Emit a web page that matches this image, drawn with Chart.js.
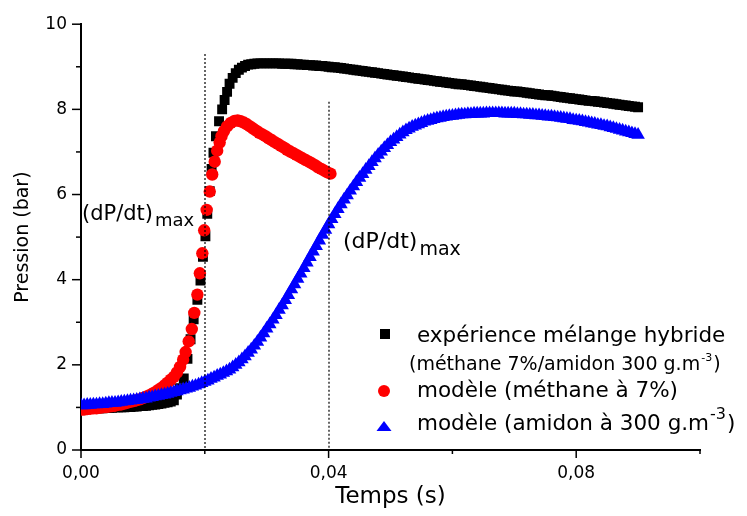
<!DOCTYPE html>
<html>
<head>
<meta charset="utf-8">
<script src="https://cdn.jsdelivr.net/npm/chart.js@4.4.1/dist/chart.umd.min.js"></script>
<style>
  body { margin: 0; background: #fff; }
  #wrap { width: 747px; height: 516px; }
</style>
</head>
<body>
<div id="wrap"><canvas id="pressionChart" width="747" height="516"></canvas></div>
<script>
// expérience mélange hybride (carrés noirs)
const expTime = [
  0.0000, 0.0005, 0.0010, 0.0015, 0.0020, 0.0025, 0.0030, 0.0035, 0.0040, 0.0045,
  0.0050, 0.0055, 0.0060, 0.0065, 0.0070, 0.0075, 0.0080, 0.0085, 0.0090, 0.0095,
  0.0100, 0.0105, 0.0110, 0.0115, 0.0120, 0.0125, 0.0130, 0.0135, 0.0140, 0.0145,
  0.0150, 0.0155, 0.0160, 0.0166, 0.0172, 0.0177, 0.0182, 0.0188, 0.0193, 0.0197,
  0.0201, 0.0204, 0.0208, 0.0211, 0.0214, 0.0218, 0.0223, 0.0228, 0.0232, 0.0236,
  0.0240, 0.0245, 0.0250, 0.0255, 0.0260, 0.0265, 0.0270, 0.0275, 0.0280, 0.0285,
  0.0290, 0.0295, 0.0300, 0.0305, 0.0310, 0.0315, 0.0320, 0.0325, 0.0330, 0.0335,
  0.0340, 0.0345, 0.0350, 0.0355, 0.0360, 0.0365, 0.0370, 0.0375, 0.0380, 0.0385,
  0.0390, 0.0395, 0.0400, 0.0405, 0.0410, 0.0415, 0.0420, 0.0425, 0.0430, 0.0435,
  0.0440, 0.0445, 0.0450, 0.0455, 0.0460, 0.0465, 0.0470, 0.0475, 0.0480, 0.0485,
  0.0490, 0.0495, 0.0500, 0.0505, 0.0510, 0.0515, 0.0520, 0.0525, 0.0530, 0.0535,
  0.0540, 0.0545, 0.0550, 0.0555, 0.0560, 0.0565, 0.0570, 0.0575, 0.0580, 0.0585,
  0.0590, 0.0595, 0.0600, 0.0605, 0.0610, 0.0615, 0.0620, 0.0625, 0.0630, 0.0635,
  0.0640, 0.0645, 0.0650, 0.0655, 0.0660, 0.0665, 0.0670, 0.0675, 0.0680, 0.0685,
  0.0690, 0.0695, 0.0700, 0.0705, 0.0710, 0.0715, 0.0720, 0.0725, 0.0730, 0.0735,
  0.0740, 0.0745, 0.0750, 0.0755, 0.0760, 0.0765, 0.0770, 0.0775, 0.0780, 0.0785,
  0.0790, 0.0795, 0.0800, 0.0805, 0.0810, 0.0815, 0.0820, 0.0825, 0.0830, 0.0835,
  0.0840, 0.0845, 0.0850, 0.0855, 0.0860, 0.0865, 0.0870, 0.0875, 0.0880, 0.0885,
  0.0890, 0.0895, 0.0900
];
const expPressure = [
  0.97, 0.97, 0.97, 0.97, 0.98, 0.98, 0.98, 0.98, 0.99, 0.99,
  0.99, 1.00, 1.00, 1.00, 1.00, 1.01, 1.01, 1.02, 1.02, 1.03,
  1.03, 1.04, 1.05, 1.06, 1.07, 1.08, 1.09, 1.11, 1.12, 1.14,
  1.17, 1.30, 1.45, 1.68, 2.14, 2.60, 3.07, 3.53, 3.98, 4.54,
  5.02, 5.55, 6.08, 6.60, 6.98, 7.37, 7.72, 8.00, 8.22, 8.41,
  8.60, 8.74, 8.85, 8.93, 8.98, 9.02, 9.05, 9.06, 9.07, 9.08,
  9.08, 9.08, 9.08, 9.08, 9.08, 9.08, 9.08, 9.07, 9.07, 9.07,
  9.07, 9.06, 9.06, 9.05, 9.05, 9.04, 9.04, 9.03, 9.03, 9.02,
  9.02, 9.01, 9.00, 8.99, 8.99, 8.98, 8.97, 8.96, 8.95, 8.94,
  8.93, 8.92, 8.91, 8.90, 8.89, 8.88, 8.87, 8.86, 8.85, 8.84,
  8.83, 8.82, 8.81, 8.80, 8.79, 8.78, 8.77, 8.76, 8.75, 8.74,
  8.73, 8.72, 8.71, 8.70, 8.69, 8.68, 8.67, 8.66, 8.65, 8.64,
  8.63, 8.62, 8.61, 8.60, 8.59, 8.59, 8.58, 8.57, 8.56, 8.55,
  8.54, 8.53, 8.52, 8.51, 8.50, 8.49, 8.48, 8.47, 8.46, 8.45,
  8.44, 8.43, 8.42, 8.42, 8.41, 8.40, 8.39, 8.38, 8.37, 8.36,
  8.35, 8.34, 8.33, 8.33, 8.32, 8.31, 8.30, 8.29, 8.28, 8.27,
  8.26, 8.25, 8.24, 8.23, 8.22, 8.21, 8.20, 8.20, 8.19, 8.18,
  8.17, 8.16, 8.15, 8.14, 8.13, 8.12, 8.11, 8.10, 8.09, 8.08,
  8.07, 8.06, 8.05
];

// modèle (méthane à 7%) (ronds rouges)
const methTime = [
  0.0000, 0.0005, 0.0010, 0.0015, 0.0020, 0.0025, 0.0030, 0.0035, 0.0040, 0.0045,
  0.0050, 0.0055, 0.0060, 0.0065, 0.0070, 0.0075, 0.0080, 0.0085, 0.0090, 0.0095,
  0.0100, 0.0105, 0.0110, 0.0115, 0.0120, 0.0125, 0.0130, 0.0135, 0.0140, 0.0145,
  0.0150, 0.0155, 0.0160, 0.0165, 0.0169, 0.0174, 0.0179, 0.0183, 0.0188, 0.0192,
  0.0196, 0.0199, 0.0203, 0.0208, 0.0212, 0.0216, 0.0220, 0.0224, 0.0227, 0.0231,
  0.0236, 0.0242, 0.0248, 0.0253, 0.0258, 0.0263, 0.0268, 0.0273, 0.0278, 0.0283,
  0.0288, 0.0293, 0.0298, 0.0303, 0.0308, 0.0313, 0.0318, 0.0323, 0.0328, 0.0333,
  0.0338, 0.0343, 0.0348, 0.0353, 0.0358, 0.0363, 0.0368, 0.0373, 0.0378, 0.0383,
  0.0388, 0.0393, 0.0398, 0.0403
];
const methPressure = [
  0.95, 0.95, 0.96, 0.97, 0.98, 0.98, 0.99, 1.00, 1.01, 1.02,
  1.03, 1.04, 1.06, 1.07, 1.09, 1.11, 1.13, 1.15, 1.17, 1.19,
  1.22, 1.25, 1.28, 1.32, 1.36, 1.41, 1.46, 1.52, 1.58, 1.65,
  1.72, 1.82, 1.95, 2.12, 2.30, 2.55, 2.84, 3.22, 3.65, 4.15,
  4.62, 5.16, 5.64, 6.07, 6.47, 6.77, 7.03, 7.22, 7.37, 7.49,
  7.60, 7.68, 7.73, 7.74, 7.72, 7.69, 7.65, 7.60, 7.55, 7.50,
  7.45, 7.41, 7.37, 7.32, 7.28, 7.23, 7.19, 7.14, 7.10, 7.05,
  7.01, 6.97, 6.93, 6.89, 6.85, 6.81, 6.77, 6.73, 6.69, 6.64,
  6.60, 6.56, 6.52, 6.49
];

// modèle (amidon à 300 g.m-3) (triangles bleus)
const amidTime = [
  0.0000, 0.0005, 0.0010, 0.0015, 0.0020, 0.0025, 0.0030, 0.0035, 0.0040, 0.0045,
  0.0050, 0.0055, 0.0060, 0.0065, 0.0070, 0.0075, 0.0080, 0.0085, 0.0090, 0.0095,
  0.0100, 0.0105, 0.0110, 0.0115, 0.0120, 0.0125, 0.0130, 0.0135, 0.0140, 0.0145,
  0.0150, 0.0155, 0.0160, 0.0165, 0.0170, 0.0175, 0.0180, 0.0185, 0.0190, 0.0195,
  0.0200, 0.0205, 0.0210, 0.0215, 0.0220, 0.0225, 0.0230, 0.0235, 0.0240, 0.0245,
  0.0250, 0.0255, 0.0260, 0.0265, 0.0270, 0.0275, 0.0280, 0.0285, 0.0290, 0.0295,
  0.0300, 0.0305, 0.0310, 0.0315, 0.0320, 0.0325, 0.0330, 0.0335, 0.0340, 0.0345,
  0.0350, 0.0355, 0.0360, 0.0365, 0.0370, 0.0375, 0.0380, 0.0385, 0.0390, 0.0395,
  0.0400, 0.0405, 0.0410, 0.0415, 0.0420, 0.0425, 0.0430, 0.0435, 0.0440, 0.0445,
  0.0450, 0.0455, 0.0460, 0.0465, 0.0470, 0.0475, 0.0480, 0.0485, 0.0490, 0.0495,
  0.0500, 0.0505, 0.0510, 0.0515, 0.0520, 0.0525, 0.0530, 0.0535, 0.0540, 0.0545,
  0.0550, 0.0555, 0.0560, 0.0565, 0.0570, 0.0575, 0.0580, 0.0585, 0.0590, 0.0595,
  0.0600, 0.0605, 0.0610, 0.0615, 0.0620, 0.0625, 0.0630, 0.0635, 0.0640, 0.0645,
  0.0650, 0.0655, 0.0660, 0.0665, 0.0670, 0.0675, 0.0680, 0.0685, 0.0690, 0.0695,
  0.0700, 0.0705, 0.0710, 0.0715, 0.0720, 0.0725, 0.0730, 0.0735, 0.0740, 0.0745,
  0.0750, 0.0755, 0.0760, 0.0765, 0.0770, 0.0775, 0.0780, 0.0785, 0.0790, 0.0795,
  0.0800, 0.0805, 0.0810, 0.0815, 0.0820, 0.0825, 0.0830, 0.0835, 0.0840, 0.0845,
  0.0850, 0.0855, 0.0860, 0.0865, 0.0870, 0.0875, 0.0880, 0.0885, 0.0890, 0.0895,
  0.0900
];
const amidPressure = [
  1.05, 1.05, 1.06, 1.06, 1.07, 1.07, 1.08, 1.08, 1.09, 1.10,
  1.11, 1.11, 1.12, 1.13, 1.14, 1.15, 1.16, 1.17, 1.18, 1.19,
  1.20, 1.21, 1.23, 1.24, 1.26, 1.27, 1.29, 1.30, 1.32, 1.34,
  1.36, 1.38, 1.40, 1.42, 1.44, 1.46, 1.49, 1.51, 1.54, 1.57,
  1.60, 1.63, 1.67, 1.70, 1.74, 1.77, 1.81, 1.85, 1.89, 1.94,
  2.00, 2.06, 2.13, 2.20, 2.28, 2.36, 2.45, 2.54, 2.64, 2.74,
  2.85, 2.95, 3.06, 3.17, 3.29, 3.40, 3.52, 3.64, 3.77, 3.89,
  4.02, 4.14, 4.27, 4.40, 4.53, 4.66, 4.79, 4.92, 5.05, 5.17,
  5.30, 5.42, 5.54, 5.66, 5.77, 5.88, 5.98, 6.09, 6.19, 6.29,
  6.39, 6.48, 6.58, 6.67, 6.76, 6.85, 6.93, 7.01, 7.09, 7.16,
  7.23, 7.29, 7.35, 7.41, 7.46, 7.51, 7.55, 7.59, 7.62, 7.65,
  7.68, 7.71, 7.73, 7.75, 7.77, 7.79, 7.80, 7.82, 7.83, 7.84,
  7.85, 7.86, 7.87, 7.88, 7.88, 7.89, 7.89, 7.90, 7.90, 7.90,
  7.90, 7.91, 7.91, 7.91, 7.91, 7.91, 7.91, 7.90, 7.90, 7.90,
  7.90, 7.89, 7.89, 7.88, 7.88, 7.87, 7.87, 7.86, 7.86, 7.85,
  7.84, 7.83, 7.83, 7.82, 7.81, 7.80, 7.79, 7.78, 7.77, 7.75,
  7.74, 7.73, 7.72, 7.70, 7.69, 7.67, 7.66, 7.64, 7.63, 7.61,
  7.60, 7.58, 7.56, 7.54, 7.52, 7.50, 7.48, 7.46, 7.44, 7.42,
  7.40
];

// axes
const xTicks = [0, 0.02, 0.04, 0.06, 0.08, 0.1];
const xMajor = [0, 0.04, 0.08];
const yTicks = [0, 1, 2, 3, 4, 5, 6, 7, 8, 9, 10];

// lignes (dP/dt)max : temps, pression haute
const markTime = [0.02, 0.04];
const markTop = [9.3, 8.18];

const FONT = 'DejaVu Sans';

function toPoints(t, p) {
  return t.map((v, i) => ({ x: v, y: p[i] }));
}

const overlay = {
  id: 'overlay',
  afterDatasetsDraw(chart) {
    const { ctx, scales: { x, y } } = chart;
    ctx.save();
    // pointillés verticaux
    ctx.strokeStyle = '#000';
    ctx.lineWidth = 1.2;
    ctx.setLineDash([2, 2]);
    markTime.forEach((t, i) => {
      const px = Math.round(x.getPixelForValue(t));
      ctx.beginPath();
      ctx.moveTo(px, y.getPixelForValue(markTop[i]));
      ctx.lineTo(px, y.getPixelForValue(0));
      ctx.stroke();
    });
    ctx.setLineDash([]);

    // graduations
    ctx.lineWidth = 1.5;
    const left = x.getPixelForValue(0);
    const bottom = y.getPixelForValue(0);
    yTicks.forEach(v => {
      const py = y.getPixelForValue(v);
      const len = v % 2 === 0 ? 9 : 5;
      ctx.beginPath();
      ctx.moveTo(left - len, py);
      ctx.lineTo(left, py);
      ctx.stroke();
    });
    xTicks.forEach(v => {
      const px = x.getPixelForValue(v);
      const len = xMajor.includes(v) ? 8 : 4;
      ctx.beginPath();
      ctx.moveTo(px, bottom);
      ctx.lineTo(px, bottom + len);
      ctx.stroke();
    });
    ctx.restore();
  },
  afterDraw(chart) {
    const { ctx } = chart;
    ctx.save();
    ctx.fillStyle = '#000';
    ctx.textBaseline = 'alphabetic';
    ctx.textAlign = 'left';

    // annotations (dP/dt)max
    function dpdt(x0, base, size, subSize, drop) {
      ctx.font = size + 'px "' + FONT + '"';
      ctx.fillText('(dP/dt)', x0, base);
      const w = ctx.measureText('(dP/dt)').width;
      ctx.font = subSize + 'px "' + FONT + '"';
      ctx.fillText('max', x0 + w + 2, base + drop);
    }
    dpdt(82, 220, 21, 18, 6);
    dpdt(343, 248, 22, 19, 7);

    // légende
    ctx.fillStyle = '#000';
    ctx.fillRect(380, 329, 10, 10);
    ctx.fillStyle = '#ff0000';
    ctx.beginPath();
    ctx.arc(384, 391, 6, 0, Math.PI * 2);
    ctx.fill();
    ctx.fillStyle = '#0000ff';
    ctx.beginPath();
    ctx.moveTo(376.5, 431);
    ctx.lineTo(391.5, 431);
    ctx.lineTo(384, 421);
    ctx.closePath();
    ctx.fill();

    ctx.fillStyle = '#000';
    ctx.font = '21.5px "' + FONT + '"';
    ctx.fillText('expérience mélange hybride', 417, 342);

    ctx.font = '19px "' + FONT + '"';
    let s = '(méthane 7%/amidon 300 g.m';
    ctx.fillText(s, 409, 370);
    let w = ctx.measureText(s).width;
    ctx.font = '11px "' + FONT + '"';
    ctx.fillText('-3', 409 + w + 1, 361);
    let w2 = ctx.measureText('-3').width;
    ctx.font = '19px "' + FONT + '"';
    ctx.fillText(')', 409 + w + w2 + 2, 370);

    ctx.font = '21.5px "' + FONT + '"';
    ctx.fillText('modèle (méthane à 7%)', 417, 397);

    s = 'modèle (amidon à 300 g.m';
    ctx.fillText(s, 417, 430);
    w = ctx.measureText(s).width;
    ctx.font = '16px "' + FONT + '"';
    ctx.fillText('-3', 417 + w + 1, 419);
    w2 = ctx.measureText('-3').width;
    ctx.font = '21.5px "' + FONT + '"';
    ctx.fillText(')', 417 + w + w2 + 2, 430);
    ctx.restore();
  }
};

Chart.defaults.font.family = FONT;
Chart.defaults.color = '#000';

const ctx = document.getElementById('pressionChart').getContext('2d');
const pressionChart = new Chart(ctx, {
  type: 'scatter',
  data: {
    datasets: [
      {
        label: 'expérience mélange hybride (méthane 7%/amidon 300 g.m-3)',
        data: toPoints(expTime, expPressure),
        pointStyle: 'rect',
        pointRadius: 7,
        pointBorderWidth: 0,
        backgroundColor: '#000000',
        borderColor: '#000000',
        order: 3
      },
      {
        label: 'modèle (méthane à 7%)',
        data: toPoints(methTime, methPressure),
        pointStyle: 'circle',
        pointRadius: 6.2,
        pointBorderWidth: 0,
        backgroundColor: '#ff0000',
        borderColor: '#ff0000',
        order: 2
      },
      {
        label: 'modèle (amidon à 300 g.m-3)',
        data: toPoints(amidTime, amidPressure),
        pointStyle: 'triangle',
        pointRadius: 7.8,
        pointBorderWidth: 0,
        backgroundColor: '#0000ff',
        borderColor: '#0000ff',
        order: 1
      }
    ]
  },
  options: {
    responsive: false,
    animation: false,
    devicePixelRatio: 1,
    layout: { padding: { left: 0, top: 16, right: 47, bottom: 0 } },
    plugins: {
      legend: { display: false },
      tooltip: { enabled: false }
    },
    scales: {
      x: {
        type: 'linear',
        min: 0,
        max: 0.1,
        afterFit: scale => { scale.height = 66; },
        grid: { display: false, drawTicks: false },
        border: { display: true, color: '#000', width: 2 },
        ticks: {
          stepSize: 0.02,
          padding: 13,
          font: { size: 17 },
          maxRotation: 0,
          autoSkip: false,
          callback: v => (Math.round(v * 100) % 4 === 0 ? v.toFixed(2).replace('.', ',') : '')
        },
        title: {
          display: true,
          text: 'Temps (s)',
          font: { size: 23 },
          padding: { top: 0, bottom: 5 }
        }
      },
      y: {
        min: 0,
        max: 10,
        afterFit: scale => { scale.width = 81; },
        grid: { display: false, drawTicks: false },
        border: { display: true, color: '#000', width: 2 },
        ticks: {
          stepSize: 1,
          padding: 14,
          font: { size: 17 },
          autoSkip: false,
          callback: v => (v % 2 === 0 ? v : '')
        },
        title: {
          display: true,
          text: 'Pression (bar)',
          font: { size: 19 },
          padding: { top: 12, bottom: 0 }
        }
      }
    }
  },
  plugins: [overlay]
});
</script>
</body>
</html>
